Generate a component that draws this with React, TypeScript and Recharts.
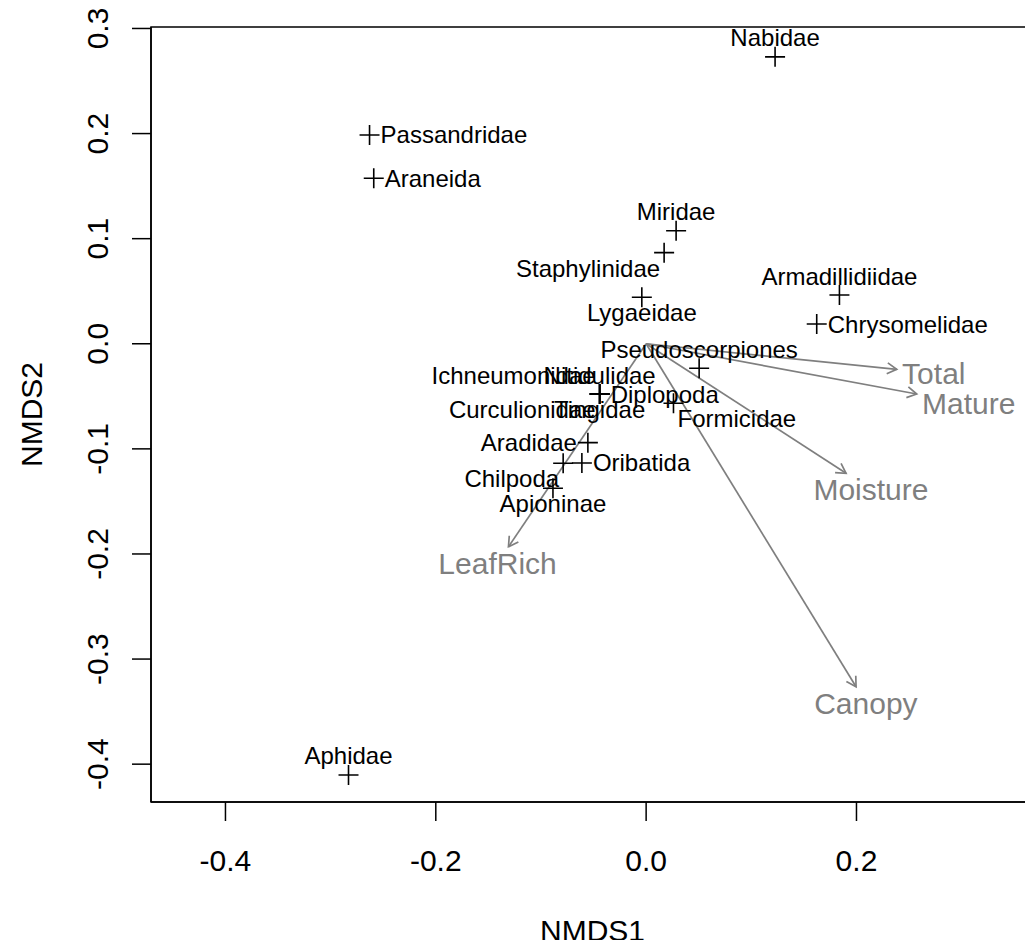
import React from "react";
import {
  ScatterChart,
  Scatter,
  XAxis,
  YAxis,
  ReferenceLine,
  ReferenceArea,
} from "recharts";

// species scores (NMDS1 / NMDS2) and where the label sits around the point
const speciesNames = [
  "Nabidae",
  "Passandridae",
  "Araneida",
  "Miridae",
  "Staphylinidae",
  "Lygaeidae",
  "Armadillidiidae",
  "Chrysomelidae",
  "Pseudoscorpiones",
  "Ichneumonidae",
  "Nitidulidae",
  "Diplopoda",
  "Curculionidae",
  "Tingidae",
  "Formicidae",
  "Aradidae",
  "Oribatida",
  "Chilpoda",
  "Apioninae",
  "Aphidae",
];
const speciesNMDS1 = [
  0.1226, -0.263, -0.259, 0.0285, 0.0171, -0.0041, 0.1838, 0.1622, 0.0504,
  -0.0442, -0.0442, -0.0442, -0.0442, -0.0442, 0.026, -0.0554, -0.0611,
  -0.0789, -0.0886, -0.283,
];
const speciesNMDS2 = [
  0.273, 0.1987, 0.1575, 0.1076, 0.0867, 0.0442, 0.0464, 0.0188, -0.0233,
  -0.0478, -0.0478, -0.0478, -0.0478, -0.0478, -0.0566, -0.0941, -0.1134,
  -0.1137, -0.1375, -0.4103,
];
const speciesLabelPos = [
  "N", "E", "E", "N", "SW", "S", "N", "E", "N", "NW",
  "N", "E", "SW", "S", "SE", "W", "E", "SW", "S", "N",
];

// envfit vectors
const vectorNames = ["Total", "Mature", "Moisture", "Canopy", "LeafRich"];
const vectorNMDS1 = [0.2383, 0.2573, 0.1901, 0.1996, -0.1309];
const vectorNMDS2 = [-0.0243, -0.0478, -0.1232, -0.3263, -0.1931];

const xTicks = [-0.4, -0.2, 0, 0.2];
const yTicks = [-0.4, -0.3, -0.2, -0.1, 0, 0.1, 0.2, 0.3];
const xDomain: [number, number] = [-0.4708, 0.3688];
const yDomain: [number, number] = [-0.436, 0.3014];

const FONT = '"Liberation Sans", Arial, Helvetica, sans-serif';
const GREY = "#7f7f7f";

const speciesData = speciesNames.map((name, i) => ({
  name,
  x: speciesNMDS1[i],
  y: speciesNMDS2[i],
  pos: speciesLabelPos[i],
}));

let measureCtx: CanvasRenderingContext2D | null = null;
function textWidth(s: string, size: number) {
  if (!measureCtx) {
    measureCtx = document.createElement("canvas").getContext("2d");
  }
  if (!measureCtx) return s.length * size * 0.55;
  measureCtx.font = `${size}px ${FONT}`;
  return measureCtx.measureText(s).width;
}

// "+" point with its label placed like ordipointlabel does
function SpeciesMark(props: any) {
  const { cx, cy, payload } = props;
  if (cx == null || cy == null) return null;
  const pos: string = payload.pos;
  let tx = cx;
  let anchor: "start" | "middle" | "end" = "middle";
  let ty = cy + 8.5;
  if (pos.includes("N")) ty = cy - 10.5;
  if (pos.includes("S")) ty = cy + 24;
  const diag = pos.length === 2;
  if (pos.includes("E")) {
    tx = cx + (diag ? 4 : 11);
    anchor = "start";
  }
  if (pos.includes("W")) {
    tx = cx - (diag ? 4 : 11);
    anchor = "end";
  }
  return (
    <g>
      <path
        d={`M${cx - 10},${cy}H${cx + 10}M${cx},${cy - 10}V${cy + 10}`}
        stroke="#000"
        strokeWidth={1.6}
        fill="none"
      />
      <text
        x={tx}
        y={ty}
        textAnchor={anchor}
        fontSize={24}
        fontFamily={FONT}
        fill="#000"
      >
        {payload.name}
      </text>
    </g>
  );
}

// arrow from the origin with the label pushed beyond the head (vegan ordiArrowTextXY)
const arrowShape = (name: string) => (props: any) => {
  const { x1, y1, x2, y2 } = props;
  const dx = x2 - x1;
  const dy = y2 - y1;
  const len = Math.hypot(dx, dy) || 1;
  const bx = -dx / len;
  const by = -dy / len;
  const head = 11;
  const a = Math.PI / 6;
  const h1x = x2 + head * (bx * Math.cos(a) - by * Math.sin(a));
  const h1y = y2 + head * (bx * Math.sin(a) + by * Math.cos(a));
  const h2x = x2 + head * (bx * Math.cos(a) + by * Math.sin(a));
  const h2y = y2 + head * (-bx * Math.sin(a) + by * Math.cos(a));

  const size = 30;
  const w = textWidth(name, size);
  const h = size * 0.716;
  let ox = Math.sign(dx) * (w / 2 + h / 4);
  let oy = Math.sign(dy) * 0.75 * h;
  const b = dy / dx;
  const move = oy / b;
  if (Number.isFinite(move) && Math.abs(move) <= Math.abs(ox)) ox = move;
  else oy = b * ox;

  return (
    <g>
      <line x1={x1} y1={y1} x2={x2} y2={y2} stroke={GREY} strokeWidth={1.7} />
      <path
        d={`M${h1x},${h1y}L${x2},${y2}L${h2x},${h2y}`}
        stroke={GREY}
        strokeWidth={1.7}
        fill="none"
      />
      <text
        x={x2 + ox}
        y={y2 + oy + h / 2}
        textAnchor="middle"
        fontSize={size}
        fontFamily={FONT}
        fill={GREY}
      >
        {name}
      </text>
    </g>
  );
};

function YTick(props: any) {
  const { x, y, payload } = props;
  return (
    <text
      x={x}
      y={y}
      transform={`rotate(-90, ${x}, ${y})`}
      textAnchor="middle"
      fontSize={30}
      fontFamily={FONT}
      fill="#000"
    >
      {Number(payload.value).toFixed(1)}
    </text>
  );
}

function YTitle(props: any) {
  const { viewBox } = props;
  const x = viewBox.x - 49;
  const y = viewBox.y + viewBox.height / 2;
  return (
    <text
      x={x}
      y={y}
      transform={`rotate(-90, ${x}, ${y})`}
      textAnchor="middle"
      fontSize={30}
      fontFamily={FONT}
      fill="#000"
    >
      NMDS2
    </text>
  );
}

function XTitle(props: any) {
  const { viewBox } = props;
  return (
    <text
      x={viewBox.x + viewBox.width / 2}
      y={viewBox.y + 139}
      textAnchor="middle"
      fontSize={30}
      fontFamily={FONT}
      fill="#000"
    >
      NMDS1
    </text>
  );
}

export default function App() {
  return (
    <div
      style={{
        margin: -8,
        width: 1033,
        height: 948,
        overflow: "hidden",
        background: "#fff",
      }}
    >
      <ScatterChart
        width={1045}
        height={948}
        margin={{ top: 27, right: 11, bottom: 86, left: 91 }}
      >
        <XAxis
          type="number"
          dataKey="x"
          domain={xDomain}
          ticks={xTicks}
          interval={0}
          allowDataOverflow
          height={60}
          tickSize={19}
          tickMargin={29}
          tickFormatter={(v: number) => v.toFixed(1)}
          tick={{ fontSize: 30, fill: "#000", fontFamily: FONT }}
          stroke="#000"
          strokeWidth={1.5}
          label={{ content: <XTitle /> }}
        />
        <YAxis
          type="number"
          dataKey="y"
          domain={yDomain}
          ticks={yTicks}
          interval={0}
          allowDataOverflow
          width={60}
          tickSize={19}
          tickMargin={23.5}
          tick={<YTick />}
          stroke="#000"
          strokeWidth={1.5}
          label={{ content: <YTitle /> }}
        />
        <ReferenceArea
          x1={xDomain[0]}
          x2={xDomain[1]}
          y1={yDomain[0]}
          y2={yDomain[1]}
          fill="none"
          stroke="#000"
          strokeWidth={1.5}
          ifOverflow="visible"
        />
        <Scatter
          data={speciesData}
          isAnimationActive={false}
          shape={<SpeciesMark />}
        />
        {vectorNames.map((name, i) => (
          <ReferenceLine
            key={name}
            segment={[
              { x: 0, y: 0 },
              { x: vectorNMDS1[i], y: vectorNMDS2[i] },
            ]}
            ifOverflow="visible"
            shape={arrowShape(name)}
          />
        ))}
      </ScatterChart>
    </div>
  );
}
